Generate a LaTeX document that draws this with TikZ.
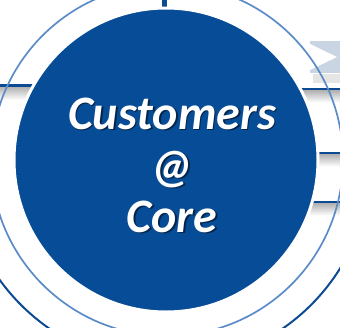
\documentclass[tikz,border=0pt]{standalone}
\usepackage{fontspec}
\usepackage{xcolor}
\newfontfamily\corefont{Carlito}
\definecolor{coreblue}{RGB}{7,76,150}
\definecolor{ringblue}{RGB}{92,140,200}
\definecolor{barblue}{RGB}{12,74,148}
\definecolor{chevgray}{RGB}{202,213,227}
\tikzset{
  corecirc/.style={
    circle, fill=coreblue, draw=white, line width=3pt,
    minimum size=304pt, inner sep=0pt,
  },
  ringcirc/.style={
    circle, draw=ringblue, line width=1.7pt,
    minimum size=352pt, inner sep=0pt,
  },
  outerarc/.style={draw=barblue, line width=2pt},
  barline/.style={fill=barblue},
  barshade/.style={top color=black!30, bottom color=white},
  coretxt/.style={
    text=white, anchor=base, inner sep=0pt,
    font=\corefont\bfseries\itshape\fontsize{48}{51}\selectfont,
  },
  coreshadow/.style={coretxt, text=black, opacity=0.5},
}
\def\cx{166}
\def\cy{160}
\def\tx{172}

\begin{document}
\begin{tikzpicture}[x=1pt, y=-1pt]
\useasboundingbox (0,0) rectangle (340,327);
\clip (0,0) rectangle (340,327);

% =====================================================================
%  BARS BEHIND THE CORE
% =====================================================================

% top vertical bar
\fill[barline] (162,-5) rectangle (167,40);

% left bar
\fill[barline] (-5,84) rectangle (70,87);
\shade[barshade] (-5,87) rectangle (70,100);

% right bars
\foreach \by in {87.5, 151.5, 200.5} {
  \fill[barline] (270,\by) rectangle (345,\by+3);
  \shade[barshade] (270,\by+3) rectangle (345,\by+15);
}

% chevron (top right)
\fill[chevgray] (310,41) rectangle (345,73);
\fill[white] (310,44) -- (337,57) -- (310,70) -- cycle;
\fill[black!10] (313,74) rectangle (345,83);

% =====================================================================
%  RINGS AND CORE
% =====================================================================
\coordinate (hub) at (\cx,\cy);
\draw[outerarc] (hub) ++(15:205) arc[start angle=15, end angle=165, radius=205];
\node[corecirc] (core) at (hub) {};
\node[ringcirc] (ring) at (\cx+1,\cy) {};

% --- label with drop shadow ---
\node[coreshadow] (custsh) at (\tx+1.6,129+1.8) {Customers};
\node[coreshadow] (atsh)   at (\tx+1.6,182+1.8) {@};
\node[coreshadow] (coresh) at (\tx+1.6,232+1.8) {Core};
\node[coretxt] (cust)   at (\tx,129) {Customers};
\node[coretxt] (at)     at (\tx,182) {@};
\node[coretxt] (coretx) at (\tx,232) {Core};

\end{tikzpicture}
\end{document}
